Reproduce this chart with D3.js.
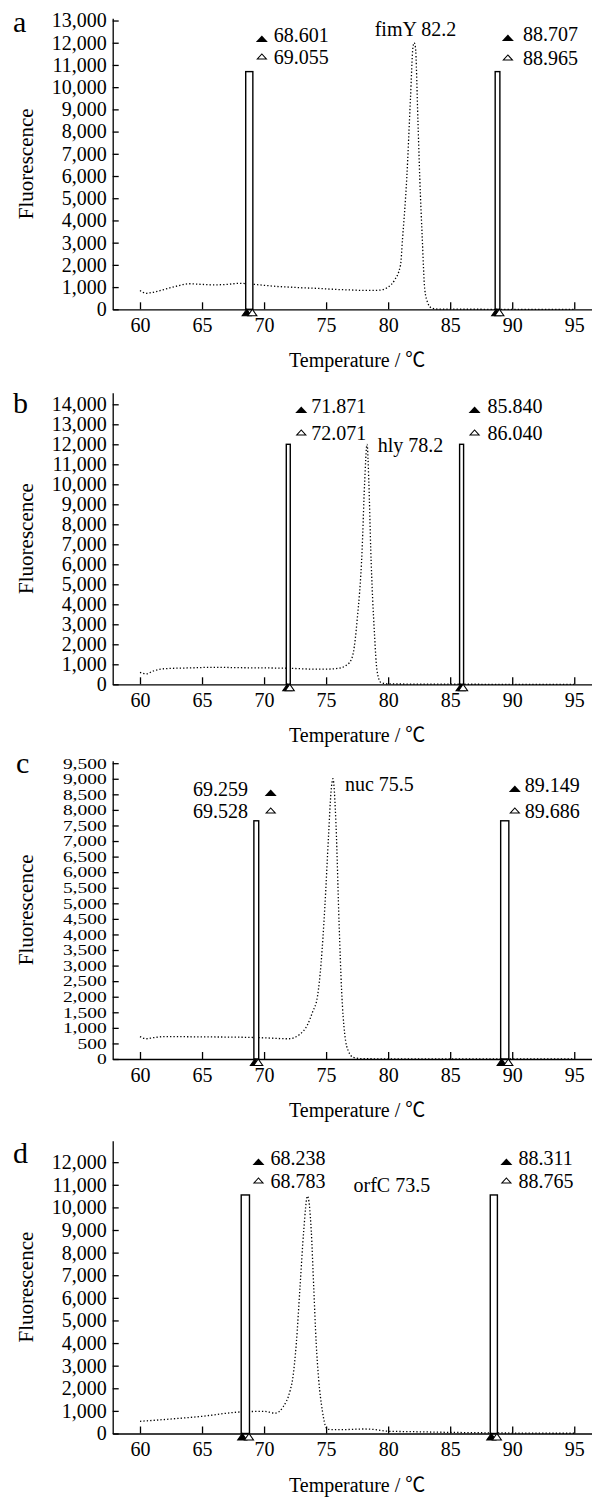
<!DOCTYPE html>
<html><head><meta charset="utf-8">
<script src="https://cdn.jsdelivr.net/npm/d3@7"></script>
<style>
body{margin:0;background:#fff}
svg{display:block}
text{font-family:"Liberation Serif","Times New Roman","Noto Sans CJK SC",serif;fill:#000}
</style>
</head><body>
<svg id="chart" width="592" height="1497"></svg>
<script>
// ---------- data ----------
const xTicks = [60, 65, 70, 75, 80, 85, 90, 95];

const yTicksA = [0,1000,2000,3000,4000,5000,6000,7000,8000,9000,10000,11000,12000,13000];
const yTicksB = [0,1000,2000,3000,4000,5000,6000,7000,8000,9000,10000,11000,12000,13000,14000];
const yTicksC = [0,500,1000,1500,2000,2500,3000,3500,4000,4500,5000,5500,6000,6500,7000,7500,8000,8500,9000,9500];
const yTicksD = [0,1000,2000,3000,4000,5000,6000,7000,8000,9000,10000,11000,12000];

// melting curves (temperature, fluorescence)
const tempA = [60,60.5,61,62,63,64,65,66,67,68,69,70,71,72,73,74,75,76,77,78,79,79.5,80,80.5,81,81.15,81.5,81.8,82,82.1,82.2,82.4,82.55,82.75,82.95,83.2,83.5,84,85,90,95];
const fluoA = [850,720,760,900,1050,1150,1120,1100,1120,1170,1130,1080,1030,1000,970,950,920,890,870,850,850,880,1000,1300,2000,3100,5900,9500,11800,12000,11800,8500,5900,3200,900,280,60,10,5,0,0];

const tempB = [60,60.5,61,62,64,66,68,70,72,74,75,76,76.5,77,77.2,77.5,77.9,78.1,78.3,78.45,78.6,78.9,79.1,79.4,80,85,90,95];
const fluoB = [600,520,650,780,820,850,830,820,800,760,760,800,900,1200,1600,3200,6700,10000,12000,10000,6700,2500,700,100,20,5,0,0];

const tempC = [60,60.5,61,62,65,68,70,72,72.9,73.5,73.9,74.3,74.6,74.9,75.2,75.4,75.55,75.8,76.05,76.25,76.5,76.8,77.2,78,80,85,90,95];
const fluoC = [720,650,680,720,710,700,680,650,800,1100,1500,2000,3100,4900,7200,8600,9000,7500,4300,2200,800,250,50,10,5,0,0,0];

const tempD = [60,62,65,68,70,70.9,71.5,72.1,72.3,72.6,72.9,73.2,73.5,73.8,74.0,74.2,74.4,74.7,75.0,75.2,76,77,78,79,80,82,85,88,90,95];
const fluoD = [540,620,760,950,980,900,1150,1900,2400,4000,6500,9000,10500,9000,6500,4000,2400,1000,260,180,170,180,200,170,100,80,50,30,20,10];

// melting-temperature markers: [filled, open] pairs, bar heights
const markersA = [[68.601, 69.055], [88.707, 88.965]];
const markersB = [[71.871, 72.071], [85.840, 86.040]];
const markersC = [[69.259, 69.528], [89.149, 89.686]];
const markersD = [[68.238, 68.783], [88.311, 88.765]];
const barTops = [10700, 12000, 7650, 10550];

const panelLetters = ["a", "b", "c", "d"];
const peakLabels = ["fimY 82.2", "hly 78.2", "nuc 75.5", "orfC 73.5"];
const peakTemps = [82.2, 78.2, 75.5, 73.5];
const xTitle = "Temperature / \u2103";
const yTitle = "Fluorescence";

// ---------- layout ----------
const layout = [
  {top:18.3, bottom:309.3, yMax:13100, lx:13, ly:32, px:0, py:36, anchor:"middle", tickFont:20, tickScale:1,
   groups:[{side:"right", tri:9, txt:21, rows:[42,64]}, {side:"right", tri:8, txt:23, rows:[41,65]}]},
  {top:392.7, bottom:684.3, yMax:14580, lx:13, ly:413, px:12, py:452, anchor:"start", tickFont:20, tickScale:1,
   groups:[{side:"right", tri:11, txt:21, rows:[413,440]}, {side:"right", tri:11, txt:24, rows:[413,440]}]},
  {top:760.7, bottom:1059, yMax:9580, lx:16, ly:773, px:12.6, py:791, anchor:"start", tickFont:15, tickScale:1.3,
   groups:[{side:"left", tri:12, txt:-6, rows:[796,818]}, {side:"right", tri:6, txt:16, rows:[792,818]}]},
  {top:1140.7, bottom:1433.5, yMax:12950, lx:13, ly:1163, px:46, py:1192, anchor:"start", tickFont:20, tickScale:1,
   groups:[{side:"right", tri:9, txt:21, rows:[1165,1188]}, {side:"right", tri:9, txt:21, rows:[1165,1188]}]}
];

const temps = [tempA, tempB, tempC, tempD];
const fluos = [fluoA, fluoB, fluoC, fluoD];
const markers = [markersA, markersB, markersC, markersD];
const yTicks = [yTicksA, yTicksB, yTicksC, yTicksD];

const svg = d3.select("#chart");
const x = d3.scaleLinear().domain([57.8, 96.43]).range([112.7, 592]);
const fmt = d3.format(",");
const f3 = d3.format(".3f");

layout.forEach((L, i) => {
  const g = svg.append("g");
  const y = d3.scaleLinear().domain([0, L.yMax]).range([L.bottom, L.top]);

  // curve
  const line = d3.line().x((d) => x(d[0])).y((d) => y(d[1])).curve(d3.curveMonotoneX);
  const pts = temps[i].map((t, k) => [t, fluos[i][k]]);
  g.append("path").attr("d", line(pts)).attr("fill", "none")
    .attr("stroke", "#000").attr("stroke-width", 1.3).attr("stroke-dasharray", "1.3 2.1");

  // bars
  markers[i].forEach((m) => {
    const x1 = x(m[0]) - 1, x2 = x(m[1]) + 0.5;
    g.append("rect").attr("x", x1).attr("y", y(barTops[i]))
      .attr("width", x2 - x1).attr("height", y(0) - y(barTops[i]))
      .attr("fill", "#fff").attr("stroke", "#000").attr("stroke-width", 1.4);
  });

  // axes
  const xAxis = d3.axisBottom(x).tickValues(xTicks).tickSizeInner(-7).tickSizeOuter(0).tickPadding(8.3);
  const gx = g.append("g").attr("transform", `translate(0,${L.bottom})`).call(xAxis);
  const yAxis = d3.axisLeft(y).tickValues(yTicks[i]).tickFormat(fmt).tickSizeInner(-6).tickSizeOuter(0).tickPadding(6);
  const gy = g.append("g").attr("transform", `translate(112.7,0)`).call(yAxis);
  [gx, gy].forEach((a) => {
    a.selectAll("path,line").attr("stroke", "#000").attr("stroke-width", 1.3);
    a.selectAll("text").attr("font-size", 20).attr("font-family", "Liberation Serif, serif").attr("fill", "#000");
  });
  if (L.tickScale !== 1) {
    gy.selectAll(".tick text").attr("font-size", L.tickFont)
      .attr("transform", `translate(-6,0) scale(${L.tickScale},1) translate(6,0)`);
  }

  // bottom triangles
  markers[i].forEach((m) => {
    m.forEach((v, k) => {
      const cx = x(v), ay = L.bottom;
      g.append("path").attr("d", `M${cx},${ay} L${cx - 4.5},${ay + 6.5} L${cx + 4.5},${ay + 6.5} Z`)
        .attr("fill", k === 0 ? "#000" : "#fff").attr("stroke", "#000").attr("stroke-width", 1.1);
    });
  });

  // marker labels
  markers[i].forEach((m, gi) => {
    const G = L.groups[gi];
    const barL = x(m[0]) - 1, barR = x(m[1]) + 0.5;
    const tx = barR + G.tri;
    m.forEach((v, k) => {
      const b = G.rows[k];
      if (k === 0) {
        g.append("path").attr("d", `M${tx - 6},${b} L${tx + 6},${b} L${tx},${b - 6.5} Z`).attr("fill", "#000");
      } else {
        g.append("path").attr("d", `M${tx - 4.5},${b - 5} L${tx + 4.5},${b - 5} L${tx},${b - 10} Z`)
          .attr("fill", "#fff").attr("stroke", "#000").attr("stroke-width", 1.1);
      }
      const t = g.append("text").attr("y", b).attr("font-size", 20).text(f3(v));
      if (G.side === "right") t.attr("x", barR + G.txt).attr("text-anchor", "start");
      else t.attr("x", barL + G.txt).attr("text-anchor", "end");
    });
  });

  // peak label
  g.append("text").attr("x", x(peakTemps[i]) + L.px).attr("y", L.py)
    .attr("text-anchor", L.anchor).attr("font-size", 20).text(peakLabels[i]);

  // panel letter
  g.append("text").attr("x", L.lx).attr("y", L.ly).attr("font-size", 30).text(panelLetters[i]);

  // axis titles
  g.append("text").attr("x", (x(60) + x(95)) / 2).attr("y", L.bottom + 58)
    .attr("text-anchor", "middle").attr("font-size", 20).text(xTitle);
  g.append("text").attr("transform", `translate(26,${(L.top + L.bottom) / 2}) rotate(-90)`)
    .attr("text-anchor", "middle").attr("dominant-baseline", "central").attr("font-size", 21).text(yTitle);
});
</script>
</body></html>
